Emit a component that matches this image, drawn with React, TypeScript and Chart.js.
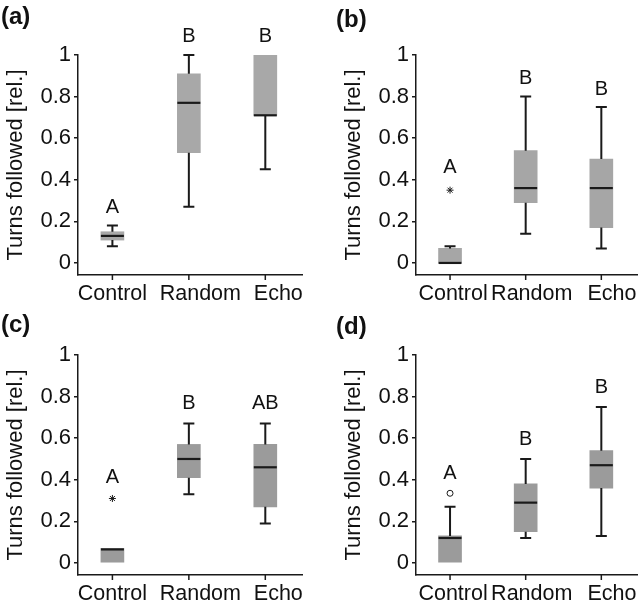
import React, { useEffect, useRef } from "react";
import { Chart, registerables } from "chart.js";

Chart.register(...registerables);

const FONT = "'Liberation Sans', Arial, sans-serif";
Chart.defaults.font.family = FONT;

const CATEGORIES = ["Control", "Random", "Echo"];
const CATEGORY_POS = [0, 1, 2];
const Y_TICKS = [0, 0.2, 0.4, 0.6, 0.8, 1];
const Y_TICK_LABELS = ["0", "0.2", "0.4", "0.6", "0.8", "1"];
const Y_TITLE = "Turns followed [rel.]";

// Panel (a)
const A_WHISKER_LOW = [0.08, 0.27, 0.45];
const A_Q1 = [0.11, 0.53, 0.71];
const A_MEDIAN = [0.13, 0.77, 0.71];
const A_Q3 = [0.15, 0.91, 1.0];
const A_WHISKER_HIGH = [0.18, 1.0, 1.0];
const A_LETTERS = ["A", "B", "B"];
const A_LETTER_Y = [0.238, 1.064, 1.064];
const A_OUTLIERS: { x: number; y: number }[] = [];

// Panel (b)
const B_WHISKER_LOW = [0, 0.14, 0.07];
const B_Q1 = [0, 0.29, 0.17];
const B_MEDIAN = [0, 0.36, 0.36];
const B_Q3 = [0.07, 0.54, 0.5];
const B_WHISKER_HIGH = [0.08, 0.8, 0.75];
const B_LETTERS = ["A", "B", "B"];
const B_LETTER_Y = [0.433, 0.86, 0.81];
const B_OUTLIERS = [{ x: 0, y: 0.35 }];

// Panel (c)
const C_WHISKER_LOW = [0, 0.33, 0.19];
const C_Q1 = [0, 0.41, 0.27];
const C_MEDIAN = [0.065, 0.5, 0.46];
const C_Q3 = [0.07, 0.57, 0.57];
const C_WHISKER_HIGH = [0.07, 0.67, 0.67];
const C_LETTERS = ["A", "B", "AB"];
const C_LETTER_Y = [0.385, 0.738, 0.738];
const C_OUTLIERS = [{ x: 0, y: 0.31 }];

// Panel (d)
const D_WHISKER_LOW = [0, 0.12, 0.13];
const D_Q1 = [0, 0.15, 0.36];
const D_MEDIAN = [0.12, 0.29, 0.47];
const D_Q3 = [0.13, 0.38, 0.54];
const D_WHISKER_HIGH = [0.27, 0.5, 0.75];
const D_LETTERS = ["A", "B", "B"];
const D_LETTER_Y = [0.406, 0.567, 0.815];
const D_OUTLIERS = [{ x: 0, y: 0.335 }];

type PanelSpec = {
  label: string;
  left: number;
  top: number;
  width: number;
  height: number;
  plotLeft: number;
  plotRight: number;
  titlePad: number;
  labelLeft: number;
  labelTop: number;
  labelShift: number[];
  fill: string;
  wl: number[];
  q1: number[];
  med: number[];
  q3: number[];
  wh: number[];
  letters: string[];
  letterY: number[];
  outliers: { x: number; y: number }[];
  outlierStyle: "star" | "circle";
};

const PANELS: PanelSpec[] = [
  {
    label: "(a)", left: 0, top: 0, width: 321, height: 300, plotLeft: 78, plotRight: 302,
    titlePad: 3, labelLeft: 1, labelTop: 4, labelShift: [0, 0.15, 0.17], fill: "#a8a8a8",
    wl: A_WHISKER_LOW, q1: A_Q1, med: A_MEDIAN, q3: A_Q3, wh: A_WHISKER_HIGH,
    letters: A_LETTERS, letterY: A_LETTER_Y, outliers: A_OUTLIERS, outlierStyle: "star",
  },
  {
    label: "(b)", left: 321, top: 0, width: 322, height: 300, plotLeft: 95, plotRight: 320,
    titlePad: 20, labelLeft: 15, labelTop: 7, labelShift: [0.04, 0.08, 0.14], fill: "#a6a6a6",
    wl: B_WHISKER_LOW, q1: B_Q1, med: B_MEDIAN, q3: B_Q3, wh: B_WHISKER_HIGH,
    letters: B_LETTERS, letterY: B_LETTER_Y, outliers: B_OUTLIERS, outlierStyle: "star",
  },
  {
    label: "(c)", left: 0, top: 300, width: 321, height: 308, plotLeft: 78, plotRight: 302,
    titlePad: 3, labelLeft: 1, labelTop: 12, labelShift: [0, 0.15, 0.17], fill: "#9b9b9b",
    wl: C_WHISKER_LOW, q1: C_Q1, med: C_MEDIAN, q3: C_Q3, wh: C_WHISKER_HIGH,
    letters: C_LETTERS, letterY: C_LETTER_Y, outliers: C_OUTLIERS, outlierStyle: "star",
  },
  {
    label: "(d)", left: 321, top: 300, width: 322, height: 308, plotLeft: 95, plotRight: 320,
    titlePad: 20, labelLeft: 15, labelTop: 14, labelShift: [0.04, 0.08, 0.14], fill: "#9b9b9b",
    wl: D_WHISKER_LOW, q1: D_Q1, med: D_MEDIAN, q3: D_Q3, wh: D_WHISKER_HIGH,
    letters: D_LETTERS, letterY: D_LETTER_Y, outliers: D_OUTLIERS, outlierStyle: "circle",
  },
];

const INK = "#1a1a1a";
const PLOT_TOP = 55;
const PLOT_BOTTOM = 275;
const BOX_W = 23;
const CAP_W = 11;
const X_TICK_LEN = 5;

const boxExtras = {
  id: "boxExtras",
  afterDatasetsDraw(chart: any, _args: any, opts: any) {
    const { ctx } = chart;
    const xs = chart.scales.x;
    const ys = chart.scales.y;
    ctx.save();
    ctx.strokeStyle = INK;
    ctx.lineCap = "butt";
    CATEGORY_POS.forEach((c: number, i: number) => {
      const cx = xs.getPixelForValue(c);
      const yq1 = ys.getPixelForValue(opts.q1[i]);
      const yq3 = ys.getPixelForValue(opts.q3[i]);
      const ylo = ys.getPixelForValue(opts.wl[i]);
      const yhi = ys.getPixelForValue(opts.wh[i]);
      const ymed = ys.getPixelForValue(opts.med[i]);
      ctx.lineWidth = 2;
      if (opts.wh[i] > opts.q3[i]) {
        ctx.beginPath();
        ctx.moveTo(cx, yq3);
        ctx.lineTo(cx, yhi);
        ctx.moveTo(cx - CAP_W / 2, yhi);
        ctx.lineTo(cx + CAP_W / 2, yhi);
        ctx.stroke();
      }
      if (opts.wl[i] < opts.q1[i]) {
        ctx.beginPath();
        ctx.moveTo(cx, yq1);
        ctx.lineTo(cx, ylo);
        ctx.moveTo(cx - CAP_W / 2, ylo);
        ctx.lineTo(cx + CAP_W / 2, ylo);
        ctx.stroke();
      }
      ctx.lineWidth = 2.2;
      ctx.beginPath();
      ctx.moveTo(cx - BOX_W / 2, ymed);
      ctx.lineTo(cx + BOX_W / 2, ymed);
      ctx.stroke();
      // category tick mark under the x axis
      ctx.lineWidth = 1.5;
      ctx.beginPath();
      ctx.moveTo(cx, chart.chartArea.bottom);
      ctx.lineTo(cx, chart.chartArea.bottom + X_TICK_LEN);
      ctx.stroke();
      ctx.fillStyle = "#111";
      ctx.font = `20px ${FONT}`;
      ctx.textAlign = "center";
      ctx.textBaseline = "alphabetic";
      ctx.fillText(opts.letters[i], cx, ys.getPixelForValue(opts.letterY[i]));
    });
    ctx.restore();
  },
};

function Panel({ spec }: { spec: PanelSpec }) {
  const ref = useRef<HTMLCanvasElement | null>(null);
  useEffect(() => {
    if (!ref.current) return;
    const boxData = CATEGORY_POS.map((c, i) => ({ x: c, y: [spec.q1[i], spec.q3[i]] }));
    const labelPos = CATEGORY_POS.map((c, i) => c + spec.labelShift[i]);
    const chart = new Chart(ref.current, {
      type: "bar",
      data: {
        datasets: [
          {
            type: "bar",
            data: boxData as any,
            backgroundColor: spec.fill,
            borderWidth: 0,
            barThickness: BOX_W,
            grouped: false,
          } as any,
          {
            type: "scatter",
            data: spec.outliers,
            pointStyle: spec.outlierStyle === "star" ? "star" : "circle",
            radius: spec.outlierStyle === "star" ? 3.5 : 3,
            borderColor: INK,
            backgroundColor: "#ffffff",
            borderWidth: 1,
          } as any,
        ],
      },
      options: {
        responsive: false,
        animation: false,
        events: [],
        layout: {
          padding: { top: PLOT_TOP, left: 0, right: spec.width - spec.plotRight, bottom: 0 },
        },
        plugins: {
          legend: { display: false },
          tooltip: { enabled: false },
          boxExtras: {
            wl: spec.wl, q1: spec.q1, med: spec.med, q3: spec.q3, wh: spec.wh,
            letters: spec.letters, letterY: spec.letterY,
          },
        } as any,
        scales: {
          x: {
            type: "linear",
            min: -0.45,
            max: 2.48,
            offset: false,
            afterBuildTicks: (s: any) => {
              s.ticks = labelPos.map((v) => ({ value: v }));
            },
            afterFit: (s: any) => {
              s.height = spec.height - PLOT_BOTTOM;
            },
            ticks: {
              autoSkip: false,
              maxRotation: 0,
              callback: (_v: any, i: number) => CATEGORIES[i] ?? "",
              font: { size: 21.5 },
              color: "#111",
              padding: 6,
            },
            grid: { offset: false, drawOnChartArea: false, drawTicks: false, color: INK },
            border: { color: INK, width: 1.5 },
          },
          y: {
            type: "linear",
            min: -0.058,
            max: 1,
            afterBuildTicks: (s: any) => {
              s.ticks = Y_TICKS.map((v) => ({ value: v }));
            },
            afterFit: (s: any) => {
              s.width = spec.plotLeft;
            },
            ticks: {
              autoSkip: false,
              callback: (v: any) => Y_TICK_LABELS[Y_TICKS.indexOf(Number(v))] ?? "",
              font: { size: 22 },
              color: "#111",
              padding: 3,
            },
            grid: { drawOnChartArea: false, tickLength: 4, color: INK, lineWidth: 1.5 },
            border: { color: INK, width: 1.5 },
            title: {
              display: true,
              text: Y_TITLE,
              font: { size: 22 },
              color: "#111",
              padding: { top: spec.titlePad, bottom: 0 },
            },
          },
        },
      } as any,
      plugins: [boxExtras],
    });
    return () => chart.destroy();
  }, [spec]);
  return (
    <div
      style={{
        position: "absolute",
        left: spec.left,
        top: spec.top,
        width: spec.width,
        height: spec.height,
      }}
    >
      <canvas
        ref={ref}
        width={spec.width}
        height={spec.height}
        style={{ width: spec.width, height: spec.height, display: "block" }}
      />
      <div
        style={{
          position: "absolute",
          left: spec.labelLeft,
          top: spec.labelTop,
          font: `bold 24px ${FONT}`,
          lineHeight: "24px",
          color: "#111",
        }}
      >
        {spec.label}
      </div>
    </div>
  );
}

export default function App() {
  return (
    <div
      style={{
        position: "absolute",
        left: 0,
        top: 0,
        width: 643,
        height: 608,
        background: "#ffffff",
        overflow: "hidden",
      }}
    >
      {PANELS.map((p) => (
        <Panel key={p.label} spec={p} />
      ))}
    </div>
  );
}
